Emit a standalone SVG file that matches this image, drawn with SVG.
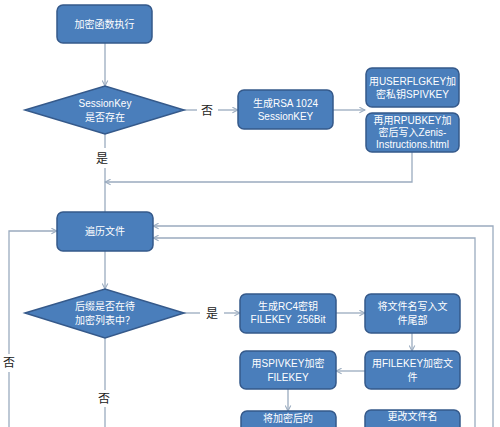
<svg xmlns="http://www.w3.org/2000/svg" width="500" height="427" viewBox="0 0 500 427">
<defs>
<style>
.box{fill:#4a7ebb;stroke:#35598a;stroke-width:1.5}
.t{fill:#ffffff;font-family:"Liberation Sans","Noto Sans CJK SC",sans-serif;font-size:10px;text-anchor:middle}
.lb{fill:#222222;font-family:"Noto Sans CJK SC",sans-serif;font-size:12px;text-anchor:middle}
.c{fill:none;stroke:#9aabbf;stroke-width:1.3}
</style>
<marker id="a" viewBox="0 0 10 10" refX="9" refY="5" markerWidth="7" markerHeight="7" orient="auto" markerUnits="userSpaceOnUse">
<path d="M1,1 L9,5 L1,9" fill="none" stroke="#9aabbf" stroke-width="1.5"/>
</marker>
</defs>
<rect width="500" height="427" fill="#ffffff"/>
<g id="connectors">
<path class="c" d="M105,43 V86" marker-end="url(#a)"/>
<path class="c" d="M184,110 H197"/>
<path class="c" d="M218,110 H238" marker-end="url(#a)"/>
<path class="c" d="M333,110 H365" marker-end="url(#a)"/>
<path class="c" d="M412,152 V182 H105" marker-end="url(#a)"/>
<path class="c" d="M105,134 V148"/>
<path class="c" d="M105,168 V212"/>
<path class="c" d="M475,430 V238 H153" marker-end="url(#a)"/>
<path class="c" d="M493,430 V226 H153" marker-end="url(#a)"/>
<path class="c" d="M9,430 V372"/>
<path class="c" d="M9,354 V231 H57" marker-end="url(#a)"/>
<path class="c" d="M105,251 V289" marker-end="url(#a)"/>
<path class="c" d="M184,313 H200"/>
<path class="c" d="M224,313 H240" marker-end="url(#a)"/>
<path class="c" d="M336,313 H365" marker-end="url(#a)"/>
<path class="c" d="M412,333 V351" marker-end="url(#a)"/>
<path class="c" d="M365,371 H336" marker-end="url(#a)"/>
<path class="c" d="M288,389 V411" marker-end="url(#a)"/>
<path class="c" d="M105,338 V390"/>
<path class="c" d="M105,407 V430"/>
<path class="c" d="M336,431 H365" marker-end="url(#a)"/>
<text class="lb" x="207" y="115">否</text>
<text class="lb" x="102" y="163">是</text>
<text class="lb" x="212" y="318">是</text>
<text class="lb" x="9" y="367">否</text>
<text class="lb" x="104" y="403">否</text>
</g>
<g id="start">
<rect class="box" x="57" y="5" width="95" height="38" rx="6"/>
<text class="t" x="104.5" y="28" font-size="12">加密函数执行</text>
</g>
<g id="check-session">
<polygon class="box" points="25,110 105,86 184,110 105,134"/>
<text class="t" x="105" y="107" font-size="11">SessionKey</text>
<text class="t" x="105" y="121" font-size="11">是否存在</text>
</g>
<g id="gen-rsa">
<rect class="box" x="238" y="90" width="95" height="39" rx="6"/>
<text class="t" x="285.5" y="107" font-size="11">生成RSA 1024</text>
<text class="t" x="285.5" y="120" font-size="11">SessionKEY</text>
</g>
<g id="enc-spivkey">
<rect class="box" x="366" y="68" width="93" height="39" rx="6"/>
<text class="t" x="412.5" y="85">用USERFLGKEY加</text>
<text class="t" x="412.5" y="98">密私钥SPIVKEY</text>
</g>
<g id="write-html">
<rect class="box" x="366" y="113" width="93" height="39" rx="6"/>
<text class="t" x="412.5" y="124" font-size="9.5">再用RPUBKEY加</text>
<text class="t" x="412.5" y="136" font-size="9.5">密后写入Zenis-</text>
<text class="t" x="412.5" y="148" font-size="9.5">Instructions.html</text>
</g>
<g id="traverse">
<rect class="box" x="57" y="212" width="96" height="39" rx="6"/>
<text class="t" x="105" y="235" font-size="12">遍历文件</text>
</g>
<g id="check-ext">
<polygon class="box" points="25,313 105,289 184,313 105,338"/>
<text class="t" x="105" y="310" font-size="11">后缀是否在待</text>
<text class="t" x="105" y="324" font-size="11">加密列表中？</text>
</g>
<g id="gen-rc4">
<rect class="box" x="240" y="294" width="96" height="39" rx="6"/>
<text class="t" x="288" y="310">生成RC4密钥</text>
<text class="t" x="288" y="323" style="white-space:pre">FILEKEY  256Bit</text>
</g>
<g id="write-name">
<rect class="box" x="365" y="294" width="95" height="39" rx="6"/>
<text class="t" x="412.5" y="310" font-size="11">将文件名写入文</text>
<text class="t" x="412.5" y="324" font-size="11">件尾部</text>
</g>
<g id="enc-file">
<rect class="box" x="365" y="351" width="95" height="38" rx="6"/>
<text class="t" x="412.5" y="367" font-size="10.5">用FILEKEY加密文</text>
<text class="t" x="412.5" y="381" font-size="10.5">件</text>
</g>
<g id="enc-filekey">
<rect class="box" x="240" y="351" width="96" height="38" rx="6"/>
<text class="t" x="288" y="367" font-size="10.5">用SPIVKEY加密</text>
<text class="t" x="288" y="381" font-size="10.5">FILEKEY</text>
</g>
<g id="write-filekey">
<rect class="box" x="241" y="411" width="95" height="39" rx="6"/>
<text class="t" x="288" y="422" font-size="11">将加密后的</text>
</g>
<g id="rename">
<rect class="box" x="365" y="410" width="95" height="39" rx="6"/>
<text class="t" x="412.5" y="420" font-size="11">更改文件名</text>
</g>
</svg>
